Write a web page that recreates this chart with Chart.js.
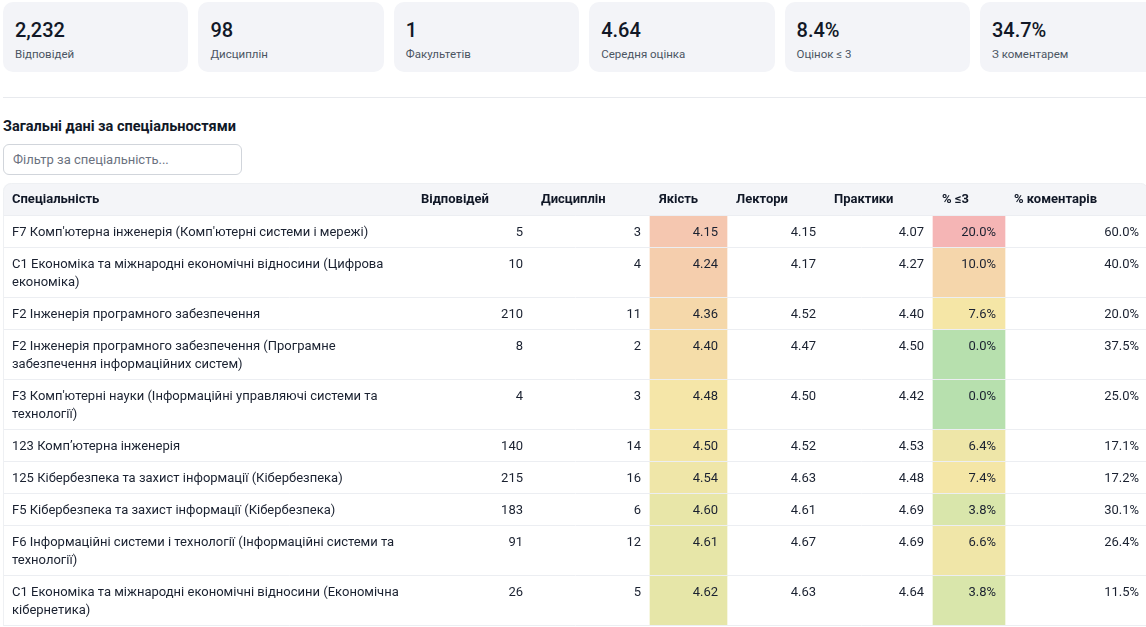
<!DOCTYPE html>
<html lang="uk">
<head>
<meta charset="utf-8">
<script src="https://cdn.jsdelivr.net/npm/chart.js@4.4.1/dist/chart.umd.min.js"></script>
<style>
  html, body { margin: 0; padding: 0; background: #fff; overflow: hidden; }
  body { font-family: Roboto, "Noto Sans", sans-serif; color: #111827; width: 1146px; height: 627px; position: relative; }
  .cards { position: absolute; left: 3px; top: 2px; display: flex; gap: 10px; }
  .card { width: 185.4px; height: 70px; background: #f3f4f8; border-radius: 10px; box-sizing: border-box; padding: 14px 12px 0 12px; }
  .card .v { font-size: 20px; font-weight: 500; line-height: 28px; color: #111827; }
  .card .l { font-size: 11.5px; color: #4b5563; line-height: 16px; margin-top: 2px; }
  .divider { position: absolute; left: 3px; right: 0; top: 97px; height: 1px; background: #e8eaee; }
  h2 { position: absolute; left: 3px; top: 117px; margin: 0; font-size: 14.5px; font-weight: 700; line-height: 20px; color: #111827; }
  input { position: absolute; left: 3px; top: 144px; width: 239px; height: 31px; box-sizing: border-box; border: 1px solid #d1d5db; border-radius: 6px; padding: 0 9px; font-family: inherit; font-size: 13px; color: #111827; outline: none; }
  input::placeholder { color: #6b7280; }
  .table-wrap { position: absolute; left: 3px; top: 183px; width: 1145px; }
</style>
</head>
<body>
<div class="cards" id="cards"></div>
<div class="divider"></div>
<h2>Загальні дані за спеціальностями</h2>
<input type="text" placeholder="Фільтр за спеціальність...">
<div class="table-wrap"><canvas id="canvas"></canvas></div>
<script>
const kpiValues = ['2,232', '98', '1', '4.64', '8.4%', '34.7%']
const kpiLabels = ['Відповідей', 'Дисциплін', 'Факультетів', 'Середня оцінка', 'Оцінок ≤ 3', 'З коментарем']

const headers = ['Спеціальність', 'Відповідей', 'Дисциплін', 'Якість', 'Лектори', 'Практики', '% ≤3', '% коментарів']
const specialties = [
  "F7 Комп'ютерна інженерія (Комп'ютерні системи і мережі)",
  'C1 Економіка та міжнародні економічні відносини (Цифрова економіка)',
  'F2 Інженерія програмного забезпечення',
  'F2 Інженерія програмного забезпечення (Програмне забезпечення інформаційних систем)',
  "F3 Комп'ютерні науки (Інформаційні управляючі системи та технології)",
  '123 Комп’ютерна інженерія',
  '125 Кібербезпека та захист інформації (Кібербезпека)',
  'F5 Кібербезпека та захист інформації (Кібербезпека)',
  'F6 Інформаційні системи і технології (Інформаційні системи та технології)',
  'C1 Економіка та міжнародні економічні відносини (Економічна кібернетика)',
]
const responses = [5, 10, 210, 8, 4, 140, 215, 183, 91, 26]
const disciplines = [3, 4, 11, 2, 3, 14, 16, 6, 12, 5]
const quality = [4.15, 4.24, 4.36, 4.40, 4.48, 4.50, 4.54, 4.60, 4.61, 4.62]
const lecturers = [4.15, 4.17, 4.52, 4.47, 4.50, 4.52, 4.63, 4.61, 4.67, 4.63]
const practice = [4.07, 4.27, 4.40, 4.50, 4.42, 4.53, 4.48, 4.69, 4.69, 4.64]
const lowPct = [20.0, 10.0, 7.6, 0.0, 0.0, 6.4, 7.4, 3.8, 6.6, 3.8]
const commentPct = [60.0, 40.0, 20.0, 37.5, 25.0, 17.1, 17.2, 30.1, 26.4, 11.5]

// kpi cards
const cardsEl = document.getElementById('cards')
kpiValues.forEach((v, i) => {
  const c = document.createElement('div')
  c.className = 'card'
  c.innerHTML = '<div class="v"></div><div class="l"></div>'
  c.querySelector('.v').textContent = v
  c.querySelector('.l').textContent = kpiLabels[i]
  cardsEl.appendChild(c)
})

// layout
const FONT = 'Roboto, "Noto Sans", sans-serif'
const colWidths = [409, 120, 118, 77, 98, 108, 72, 143]
const PAD_X = 9, PAD_Y = 7, LINE_H = 18, HEADER_H = 33
const colStart = []
colWidths.reduce((acc, w, i) => { colStart[i] = acc; return acc + w }, 0)
const tableW = colWidths.reduce((a, b) => a + b, 0)

// wrap specialty names to column width
const mctx = document.createElement('canvas').getContext('2d')
mctx.font = '13px ' + FONT
const wrapped = specialties.map(s => {
  const words = s.split(' ')
  const lines = []
  let cur = ''
  words.forEach(w => {
    const t = cur ? cur + ' ' + w : w
    if (mctx.measureText(t).width > colWidths[0] - 2 * PAD_X && cur) { lines.push(cur); cur = w } else cur = t
  })
  lines.push(cur)
  return lines
})
const rowTop = []
let yy = HEADER_H
wrapped.forEach((l, i) => { rowTop[i] = yy; yy += PAD_Y * 2 + l.length * LINE_H })
const rowBottom = rowTop.map((t, i) => t + PAD_Y * 2 + wrapped[i].length * LINE_H)
const tableH = yy

// colour scales
function lerpStops(stops, v) {
  if (v <= stops[0][0]) return stops[0][1]
  for (let i = 1; i < stops.length; i++) {
    if (v <= stops[i][0]) {
      const a = stops[i - 1], b = stops[i]
      const t = (v - a[0]) / (b[0] - a[0])
      return a[1].map((c, k) => Math.round(c + (b[1][k] - c) * t))
    }
  }
  return stops[stops.length - 1][1]
}
const qualityStops = [[4.15, [245, 199, 176]], [4.36, [245, 216, 170]], [4.48, [245, 230, 168]], [4.62, [230, 230, 168]], [4.9, [183, 224, 174]]]
const lowStops = [[0, [183, 224, 174]], [3.8, [217, 230, 171]], [6.5, [239, 230, 168]], [7.6, [245, 230, 166]], [10, [245, 214, 171]], [20, [245, 181, 181]]]
const rgb = a => `rgb(${a[0]},${a[1]},${a[2]})`

const cellCols = [
  { col: 3, values: quality, stops: qualityStops },
  { col: 6, values: lowPct, stops: lowStops },
]

const tablePlugin = {
  id: 'tablePlugin',
  beforeDatasetsDraw(chart) {
    const { ctx, scales: { x, y } } = chart
    const l = x.getPixelForValue(0), r = x.getPixelForValue(tableW)
    const t = y.getPixelForValue(0), b = y.getPixelForValue(HEADER_H)
    ctx.save()
    ctx.fillStyle = '#f4f5f8'
    ctx.beginPath()
    ctx.roundRect(l, t, r - l, b - t, [8, 8, 0, 0])
    ctx.fill()
    ctx.restore()
  },
  afterDatasetsDraw(chart) {
    const { ctx, scales: { x, y } } = chart
    const l = x.getPixelForValue(0), r = x.getPixelForValue(tableW)
    ctx.save()
    // row lines
    ctx.strokeStyle = '#eceef2'
    ctx.lineWidth = 1
    const lines = [HEADER_H].concat(rowBottom)
    lines.forEach(v => {
      const py = Math.round(y.getPixelForValue(v)) - 0.5
      ctx.beginPath(); ctx.moveTo(l, py); ctx.lineTo(r, py); ctx.stroke()
    })
    ctx.strokeStyle = '#eef0f3'
    ctx.beginPath()
    ctx.roundRect(l + 0.5, y.getPixelForValue(0) + 0.5, r - l, y.getPixelForValue(tableH), [8, 8, 0, 0])
    ctx.stroke()

    // header
    ctx.textBaseline = 'middle'
    ctx.fillStyle = '#111827'
    ctx.font = 'bold 13px ' + FONT
    ctx.textAlign = 'left'
    headers.forEach((h, i) => {
      ctx.fillText(h, x.getPixelForValue(colStart[i] + PAD_X), y.getPixelForValue(HEADER_H / 2))
    })

    // body
    ctx.font = '13px ' + FONT
    ctx.fillStyle = '#1a2130'
    const cols = [
      null,
      responses.map(v => String(v)),
      disciplines.map(v => String(v)),
      quality.map(v => v.toFixed(2)),
      lecturers.map(v => v.toFixed(2)),
      practice.map(v => v.toFixed(2)),
      lowPct.map(v => v.toFixed(1) + '%'),
      commentPct.map(v => v.toFixed(1) + '%'),
    ]
    specialties.forEach((s, i) => {
      const firstLine = rowTop[i] + PAD_Y + LINE_H / 2 + 0.5
      ctx.textAlign = 'left'
      wrapped[i].forEach((ln, k) => {
        ctx.fillText(ln, x.getPixelForValue(PAD_X), y.getPixelForValue(firstLine + k * LINE_H))
      })
      ctx.textAlign = 'right'
      for (let c = 1; c < cols.length; c++) {
        ctx.fillText(cols[c][i], x.getPixelForValue(colStart[c] + colWidths[c] - PAD_X), y.getPixelForValue(firstLine))
      }
    })
    ctx.restore()
  },
}

const canvas = document.getElementById('canvas')
canvas.style.width = tableW + 'px'
canvas.style.height = tableH + 'px'

const data = {
  datasets: cellCols.map(cc => ({
    label: headers[cc.col],
    data: cc.values.map((v, i) => ({ x: colStart[cc.col] + colWidths[cc.col] / 2, y: [rowTop[i], rowBottom[i]] })),
    backgroundColor: ctx => rgb(lerpStops(cc.stops, cc.values[ctx.dataIndex])),
    barThickness: colWidths[cc.col],
    borderWidth: 0,
    grouped: false,
  })),
}

const config = {
  type: 'bar',
  data: data,
  options: {
    responsive: false,
    animation: false,
    events: [],
    layout: { padding: 0 },
    scales: {
      x: { type: 'linear', min: 0, max: tableW, display: false, offset: false },
      y: { type: 'linear', min: 0, max: tableH, reverse: true, display: false },
    },
    plugins: { legend: { display: false }, tooltip: { enabled: false } },
  },
  plugins: [tablePlugin],
}

canvas.width = tableW
canvas.height = tableH
const chart = new Chart(canvas, config)
</script>
</body>
</html>
